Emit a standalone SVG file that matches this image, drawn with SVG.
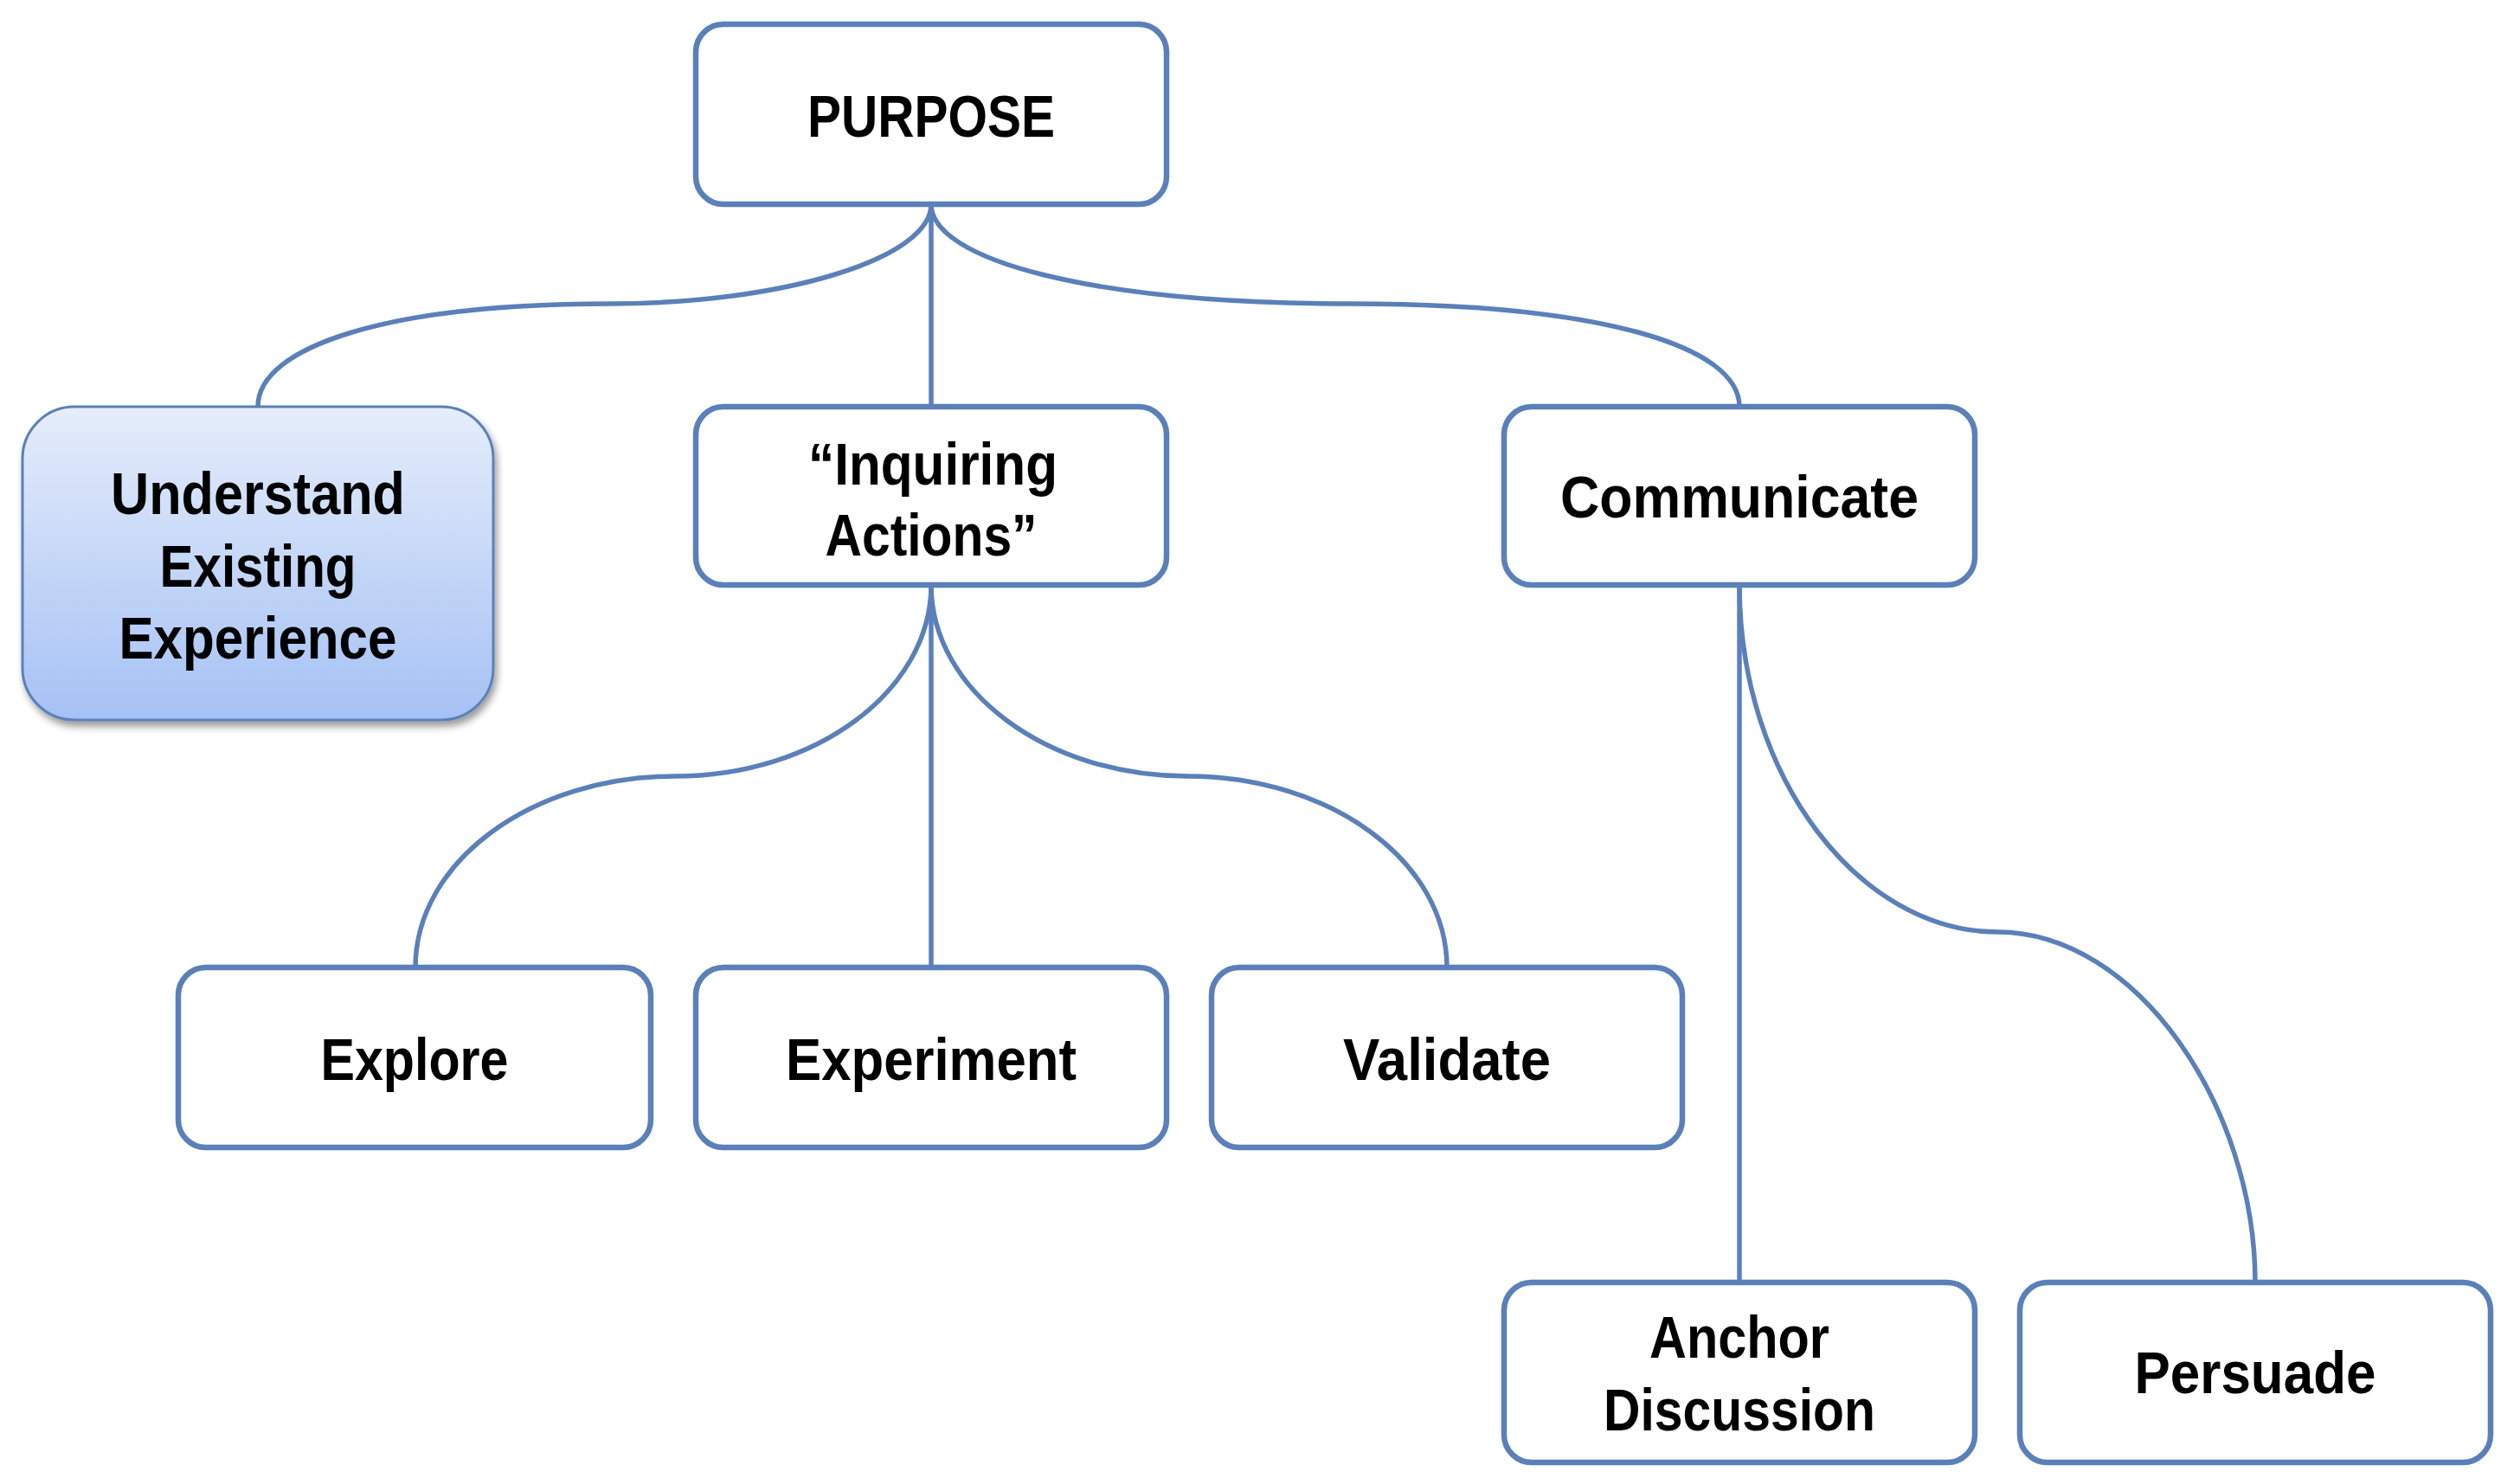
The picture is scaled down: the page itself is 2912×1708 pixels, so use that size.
<svg xmlns="http://www.w3.org/2000/svg" width="2912" height="1708" viewBox="0 0 2912 1708">
<defs>
<linearGradient id="blueGrad" x1="0" y1="0" x2="0" y2="1">
<stop offset="0" stop-color="#e6edfb"/>
<stop offset="1" stop-color="#a5c1f4"/>
</linearGradient>
<filter id="shadow" x="-10%" y="-10%" width="120%" height="125%">
<feGaussianBlur in="SourceAlpha" stdDeviation="4"/>
<feOffset dx="3" dy="6" result="b"/>
<feComponentTransfer><feFuncA type="linear" slope="0.4"/></feComponentTransfer>
<feMerge><feMergeNode/><feMergeNode in="SourceGraphic"/></feMerge>
</filter>
</defs>
<style>
.box{fill:#ffffff;stroke:#5b80b9;stroke-width:6.5}
.hl{fill:url(#blueGrad);stroke:#5b80b9;stroke-width:3}
.conn{fill:none;stroke:#5b80b9;stroke-width:5.5}
.t{font-family:"Liberation Sans",Arial,sans-serif;font-weight:bold;font-size:68px;fill:#000;text-anchor:middle}
</style>
<rect width="2912" height="1708" fill="#ffffff"/>
<g id="connectors">
<path class="conn" d="M1076,236 C1076,300 900,351 706,351 C450,351 298,400 298,470"/>
<path class="conn" d="M1076,236 L1076,470"/>
<path class="conn" d="M1076,236 C1076,300 1260,351 1560,351 C1850,351 2010,400 2010,470"/>
<path class="conn" d="M1076,676 C1076,798 943,897 780,897 C614,897 480,996 480,1118"/>
<path class="conn" d="M1076,676 L1076,1118"/>
<path class="conn" d="M1076,676 C1076,798 1209,897 1372,897 C1538,897 1672,996 1672,1118"/>
<path class="conn" d="M2010,676 L2010,1482"/>
<path class="conn" d="M2010,676 C2010,900 2150,1077 2308,1077 C2470,1077 2606,1280 2606,1482"/>
</g>
<g id="purpose">
<rect class="box" x="804" y="28" width="544" height="208" rx="32"/>
<text class="t" x="1076" y="158" textLength="286" lengthAdjust="spacingAndGlyphs">PURPOSE</text>
</g>
<g id="understand">
<rect class="hl" x="26" y="470" width="544" height="362" rx="60" filter="url(#shadow)"/>
<text class="t" x="298" y="594" textLength="340" lengthAdjust="spacingAndGlyphs">Understand</text>
<text class="t" x="298" y="678" textLength="227" lengthAdjust="spacingAndGlyphs">Existing</text>
<text class="t" x="298" y="761" textLength="321" lengthAdjust="spacingAndGlyphs">Experience</text>
</g>
<g id="inquiring">
<rect class="box" x="804" y="470" width="544" height="206" rx="32"/>
<text class="t" x="1078" y="560" textLength="288" lengthAdjust="spacingAndGlyphs">“Inquiring</text>
<text class="t" x="1076" y="642" textLength="245" lengthAdjust="spacingAndGlyphs">Actions”</text>
</g>
<g id="communicate">
<rect class="box" x="1738" y="470" width="544" height="206" rx="32"/>
<text class="t" x="2010" y="598" textLength="414" lengthAdjust="spacingAndGlyphs">Communicate</text>
</g>
<g id="explore">
<rect class="box" x="206" y="1118" width="546" height="208" rx="32"/>
<text class="t" x="479" y="1248" textLength="217" lengthAdjust="spacingAndGlyphs">Explore</text>
</g>
<g id="experiment">
<rect class="box" x="804" y="1118" width="544" height="208" rx="32"/>
<text class="t" x="1076" y="1248" textLength="336" lengthAdjust="spacingAndGlyphs">Experiment</text>
</g>
<g id="validate">
<rect class="box" x="1400" y="1118" width="544" height="208" rx="32"/>
<text class="t" x="1672" y="1248" textLength="240" lengthAdjust="spacingAndGlyphs">Validate</text>
</g>
<g id="anchor">
<rect class="box" x="1738" y="1482" width="544" height="208" rx="32"/>
<text class="t" x="2010" y="1569" textLength="208" lengthAdjust="spacingAndGlyphs">Anchor</text>
<text class="t" x="2010" y="1653" textLength="314" lengthAdjust="spacingAndGlyphs">Discussion</text>
</g>
<g id="persuade">
<rect class="box" x="2334" y="1482" width="544" height="208" rx="32"/>
<text class="t" x="2606" y="1610" textLength="279" lengthAdjust="spacingAndGlyphs">Persuade</text>
</g>
</svg>
